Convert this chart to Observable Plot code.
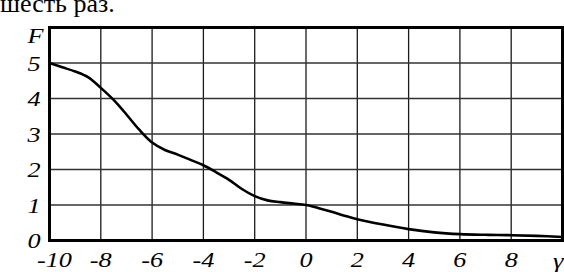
<!DOCTYPE html>
<html>
<head>
<meta charset="utf-8">
<script src="https://cdn.jsdelivr.net/npm/d3@7"></script>
<script src="https://cdn.jsdelivr.net/npm/@observablehq/plot@0.6"></script>
<style>
  html, body { margin: 0; padding: 0; background: #fff; }
  #wrap { position: relative; width: 564px; height: 272px; overflow: hidden; }
  #caption { position: absolute; left: 0px; top: -9px; font-family: "Liberation Serif", serif; font-size: 26px; line-height: 26px; color: #000; white-space: nowrap; }
  #chart { position: absolute; left: 0; top: 0; }
  #chart svg text { font-family: "Liberation Serif", "Times New Roman", serif; }
</style>
</head>
<body>
<div id="wrap">
  <div id="caption"></div>
  <div id="chart"></div>
</div>
<script>
const caption = "шесть раз.";
const gamma = [-10,-9.5,-9,-8.5,-8,-7.5,-7,-6.5,-6,-5.5,-5,-4.5,-4,-3.5,-3,-2.5,-2,-1.5,-1,-0.5,0,0.5,1,1.5,2,3,4,5,6,7,8,9,10];
const F     = [5.0,4.88,4.76,4.6,4.3,3.96,3.55,3.12,2.76,2.55,2.42,2.27,2.12,1.92,1.71,1.45,1.25,1.13,1.08,1.04,1.0,0.91,0.81,0.7,0.6,0.45,0.32,0.23,0.18,0.16,0.15,0.13,0.1];
const xTicks = [-10,-8,-6,-4,-2,0,2,4,6,8];
const yTicks = [0,1,2,3,4,5];
const xAxisName = "γ";
const yAxisName = "F";

document.getElementById("caption").textContent = caption;

const data = gamma.map((g, i) => ({g, f: F[i]}));
const font = '"Liberation Serif", "Times New Roman", serif';
const fs = 21;

const chart = Plot.plot({
  width: 564,
  height: 272,
  marginLeft: 49,
  marginRight: 2,
  marginTop: 27,
  marginBottom: 32,
  style: {fontFamily: font, fontSize: fs + "px", fontStyle: "italic", color: "#000", background: "transparent"},
  x: {domain: [-10, 10], label: null},
  y: {domain: [0, 6], label: null},
  marks: [
    Plot.gridX(xTicks.concat([10]), {stroke: "#1a1a1a", strokeOpacity: 1, strokeWidth: 1.3}),
    Plot.gridY(yTicks.concat([6]), {stroke: "#333", strokeOpacity: 1, strokeWidth: 1.3}),
    Plot.frame({stroke: "#000", strokeWidth: 3}),
    Plot.axisX(xTicks.slice(1), {label: null, tickSize: 0, tickPadding: 12, tickFormat: d => String(d), fontFamily: font, fontSize: fs, fontStyle: "italic"}),
    Plot.axisX(xTicks.slice(0, 1), {label: null, tickSize: 0, tickPadding: 12, dx: 5, tickFormat: d => String(d), fontFamily: font, fontSize: fs, fontStyle: "italic"}),
    Plot.text([xAxisName], {x: 10, frameAnchor: "bottom", textAnchor: "end", dx: 1, dy: 13, lineAnchor: "top", text: d => d, fontFamily: font, fontSize: fs, fontStyle: "italic"}),
    Plot.axisY(yTicks, {label: null, tickSize: 0, tickPadding: 9, dy: 1, tickFormat: d => String(d), fontFamily: font, fontSize: fs, fontStyle: "italic"}),
    Plot.text([yAxisName], {x: -10, y: 6, dx: -6, dy: 9, textAnchor: "end", text: d => d, fontFamily: font, fontSize: fs, fontStyle: "italic"}),
    Plot.line(data, {x: "g", y: "f", curve: "catmull-rom", stroke: "#000", strokeWidth: 2.6})
  ]
});
document.getElementById("chart").appendChild(chart);

// the reference's labels are drawn wide: stretch glyphs horizontally
chart.querySelectorAll("text").forEach(t => {
  const w = t.getComputedTextLength();
  if (w > 0) {
    t.setAttribute("textLength", (w * 1.25).toFixed(1));
    t.setAttribute("lengthAdjust", "spacingAndGlyphs");
  }
});
</script>
</body>
</html>
